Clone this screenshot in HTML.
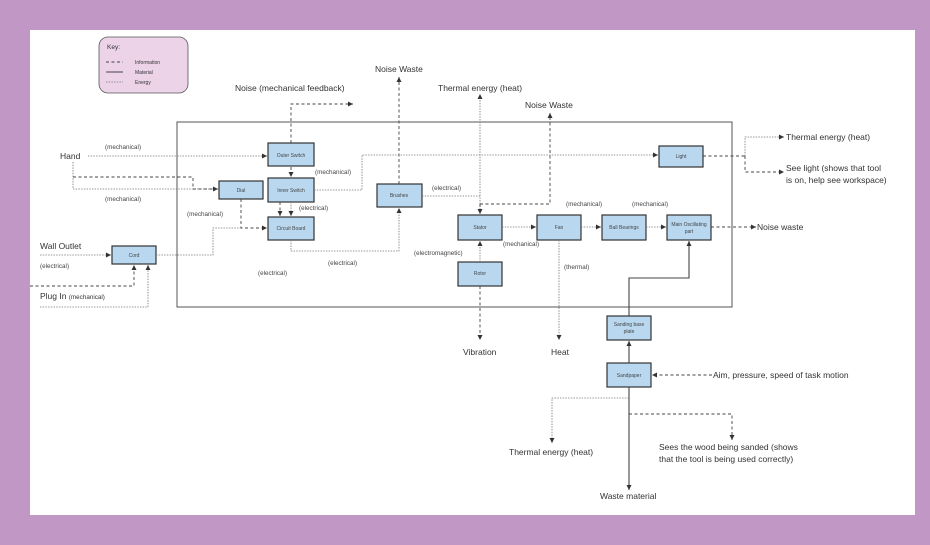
<!DOCTYPE html>
<html><head><meta charset="utf-8"><style>
html,body{margin:0;padding:0;background:#c197c6;}
svg{display:block;}
text{font-family:"Liberation Sans",sans-serif;fill:#333;}
.b{fill:#b9d8f0;stroke:#333;stroke-width:1.2;}
.bl{font-size:5px;text-anchor:middle;fill:#444;}
.s{font-size:6.3px;fill:#444;}
.t{font-size:8.5px;fill:#333;}
.dot{stroke:#777;stroke-width:0.8;stroke-dasharray:1.5 1.2;fill:none;}
.dash{stroke:#444;stroke-width:0.9;stroke-dasharray:3 2.5;fill:none;}
.sol{stroke:#444;stroke-width:1.1;fill:none;}
</style></head><body>
<svg width="930" height="545" viewBox="0 0 930 545" xmlns="http://www.w3.org/2000/svg">
<defs><marker id="a" markerWidth="6" markerHeight="6" refX="5" refY="3" orient="auto" markerUnits="userSpaceOnUse"><path d="M0,0.5 L5,3 L0,5.5z" fill="#333"/></marker></defs>
<rect x="0" y="0" width="930" height="545" fill="#c197c6"/>
<rect x="30" y="30" width="885" height="485" fill="#fff"/>
<!-- key -->
<rect x="99" y="37" width="89" height="56" rx="9" fill="#ecd3e8" stroke="#555" stroke-width="0.8"/>
<text x="107" y="49" style="font-size:6.5px">Key:</text>
<line x1="106" y1="62" x2="123" y2="62" class="dash" stroke-width="0.6"/>
<line x1="106" y1="72" x2="123" y2="72" class="sol" stroke-width="0.6"/>
<line x1="106" y1="82" x2="123" y2="82" class="dot"/>
<text x="135" y="64" style="font-size:5px">Information</text>
<text x="135" y="74" style="font-size:5px">Material</text>
<text x="135" y="84" style="font-size:5px">Energy</text>
<!-- main box -->
<rect x="177" y="122" width="555" height="185" fill="none" stroke="#555" stroke-width="1"/>
<!-- boxes -->
<rect class="b" x="268" y="143" width="46" height="23"/><text class="bl" x="291" y="157">Outer Switch</text>
<rect class="b" x="268" y="178" width="46" height="24"/><text class="bl" x="291" y="192">Inner Switch</text>
<rect class="b" x="268" y="217" width="46" height="23"/><text class="bl" x="291" y="230">Circuit Board</text>
<rect class="b" x="219" y="181" width="44" height="18"/><text class="bl" x="241" y="192">Dial</text>
<rect class="b" x="112" y="246" width="44" height="18"/><text class="bl" x="134" y="257">Cord</text>
<rect class="b" x="377" y="184" width="45" height="23"/><text class="bl" x="399" y="197">Brushes</text>
<rect class="b" x="659" y="146" width="44" height="21"/><text class="bl" x="681" y="158">Light</text>
<rect class="b" x="458" y="215" width="44" height="25"/><text class="bl" x="480" y="229">Stator</text>
<rect class="b" x="537" y="215" width="44" height="25"/><text class="bl" x="559" y="229">Fan</text>
<rect class="b" x="602" y="215" width="44" height="25"/><text class="bl" x="624" y="229">Ball Bearings</text>
<rect class="b" x="667" y="215" width="44" height="25"/><text class="bl" x="689" y="226">Main Oscillating</text><text class="bl" x="689" y="233">part</text>
<rect class="b" x="458" y="262" width="44" height="24"/><text class="bl" x="480" y="275">Rotor</text>
<rect class="b" x="607" y="316" width="44" height="24"/><text class="bl" x="629" y="326">Sanding base</text><text class="bl" x="629" y="333">plate</text>
<rect class="b" x="607" y="363" width="44" height="24"/><text class="bl" x="629" y="377">Sandpaper</text>
<!-- texts -->
<text class="t" x="375" y="72">Noise Waste</text>
<text class="t" x="235" y="91">Noise (mechanical feedback)</text>
<text class="t" x="438" y="91">Thermal energy (heat)</text>
<text class="t" x="525" y="108">Noise Waste</text>
<text class="t" x="60" y="159">Hand</text>
<text class="s" x="105" y="149">(mechanical)</text>
<text class="s" x="105" y="201">(mechanical)</text>
<text class="s" x="315" y="174">(mechanical)</text>
<text class="s" x="299" y="210">(electrical)</text>
<text class="s" x="187" y="216">(mechanical)</text>
<text class="s" x="328" y="265">(electrical)</text>
<text class="s" x="258" y="275">(electrical)</text>
<text class="s" x="432" y="190">(electrical)</text>
<text class="s" x="414" y="255">(electromagnetic)</text>
<text class="s" x="503" y="246">(mechanical)</text>
<text class="s" x="566" y="206">(mechanical)</text>
<text class="s" x="632" y="206">(mechanical)</text>
<text class="s" x="564" y="269">(thermal)</text>
<text class="t" x="40" y="249">Wall Outlet</text>
<text class="s" x="40" y="268">(electrical)</text>
<text class="t" x="40" y="299">Plug In <tspan style="font-size:6.3px">(mechanical)</tspan></text>
<text class="t" x="786" y="140">Thermal energy (heat)</text>
<text class="t" x="786" y="171">See light (shows that tool</text>
<text class="t" x="786" y="183">is on, help see workspace)</text>
<text class="t" x="757" y="230">Noise waste</text>
<text class="t" x="463" y="355">Vibration</text>
<text class="t" x="551" y="355">Heat</text>
<text class="t" x="713" y="378">Aim, pressure, speed of task motion</text>
<text class="t" x="509" y="455">Thermal energy (heat)</text>
<text class="t" x="659" y="450">Sees the wood being sanded (shows</text>
<text class="t" x="659" y="462">that the tool is being used correctly)</text>
<text class="t" x="600" y="499">Waste material</text>
<!-- connectors -->
<path class="dash" d="M399,184 V77" marker-end="url(#a)"/>
<path class="dash" d="M291,143 V104 H353" marker-end="url(#a)"/>
<path class="dot" d="M480,215 V94" marker-end="url(#a)"/>
<path class="dash" d="M480,204 H550 V113" marker-end="url(#a)"/>
<path class="dash" d="M480,204 V214" marker-end="url(#a)"/>
<path class="dot" d="M422,196 H480"/>
<path class="dot" d="M88,156 H267" marker-end="url(#a)"/>
<path class="dot" d="M73,162 V189 H218" marker-end="url(#a)"/>
<path class="dash" d="M73,177 H193 V189 H218"/>
<path class="dash" d="M291,167 V177" marker-end="url(#a)"/>
<path class="dash" d="M280,202 V216" marker-end="url(#a)"/>
<path class="dot" d="M291,202 V216" marker-end="url(#a)"/>
<path class="dash" d="M241,199 V228 H267" marker-end="url(#a)"/>
<path class="dot" d="M156,255 H213 V228 H241"/>
<path class="dot" d="M291,240 V251 H399 V208" marker-end="url(#a)"/>
<path class="dot" d="M314,190 H362 V155 H658" marker-end="url(#a)"/>
<path class="dot" d="M40,255 H111" marker-end="url(#a)"/>
<path class="dash" d="M30,286 H134 V265" marker-end="url(#a)" stroke-width="1.2"/>
<path class="dot" d="M40,307 H148 V265" marker-end="url(#a)"/>
<path class="dot" d="M502,227 H536" marker-end="url(#a)"/>
<path class="dot" d="M581,227 H601" marker-end="url(#a)"/>
<path class="dot" d="M646,227 H666" marker-end="url(#a)"/>
<path class="dash" d="M711,227 H756" marker-end="url(#a)"/>
<path class="dash" d="M703,156 H745"/>
<path class="dot" d="M745,156 V137 H784" marker-end="url(#a)"/>
<path class="dash" d="M745,156 V172 H784" marker-end="url(#a)"/>
<path class="dot" d="M480,262 V241" marker-end="url(#a)"/>
<path class="dash" d="M480,286 V340" marker-end="url(#a)"/>
<path class="dot" d="M559,240 V340" marker-end="url(#a)"/>
<path class="sol" d="M629,316 V278 H689 V241" marker-end="url(#a)"/>
<path class="sol" d="M629,363 V341" marker-end="url(#a)"/>
<path class="dash" d="M712,375 H652" marker-end="url(#a)"/>
<path class="sol" d="M629,387 V490" marker-end="url(#a)"/>
<path class="dot" d="M629,398 H552 V443" marker-end="url(#a)"/>
<path class="dash" d="M629,414 H732 V440" marker-end="url(#a)"/>
</svg>
</body></html>
